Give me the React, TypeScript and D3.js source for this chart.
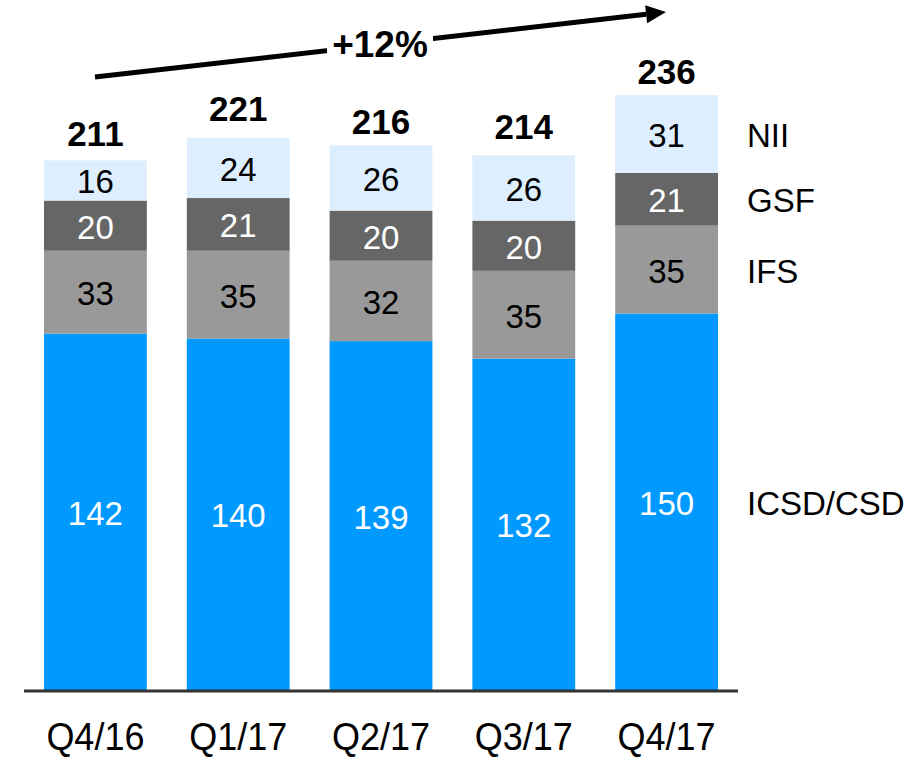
import React from "react";
import * as d3 from "d3";

const categories = ["Q4/16", "Q1/17", "Q2/17", "Q3/17", "Q4/17"];
const icsd = [142, 140, 139, 132, 150];
const ifs = [33, 35, 32, 35, 35];
const gsf = [20, 21, 20, 20, 21];
const nii = [16, 24, 26, 26, 31];
const totals = [211, 221, 216, 214, 236];
const seriesNames = ["ICSD/CSD", "IFS", "GSF", "NII"];
const growthLabel = "+12%";

const colors = ["#0099FF", "#999999", "#666666", "#DDEEFF"];
const labelColors = ["#FFFFFF", "#000000", "#FFFFFF", "#000000"];

export default function App() {
  const W = 919, H = 757;
  const baseY = 690;
  const x = d3.scaleBand().domain(categories).range([24, 738]).paddingInner(0.28).paddingOuter(0.14);
  const y = d3.scaleLinear().domain([0, 236]).range([baseY, baseY - 236 * 2.51]);
  const table = categories.map((c, i) => ({ cat: c, ICSD: icsd[i], IFS: ifs[i], GSF: gsf[i], NII: nii[i] }));
  const stack = d3.stack<any>().keys(["ICSD", "IFS", "GSF", "NII"])(table);
  const font = "'Liberation Sans', Arial, sans-serif";
  const last = categories.length - 1;

  // arrow
  const ax1 = 95, ay1 = 77, ax2 = 666, ay2 = 12;
  const ang = Math.atan2(ay2 - ay1, ax2 - ax1);
  const headLen = 20, headW = 9;
  const bx = ax2 - headLen * Math.cos(ang), by = ay2 - headLen * Math.sin(ang);
  const px = -Math.sin(ang), py = Math.cos(ang);
  const head = `M${ax2},${ay2} L${bx + px * headW},${by + py * headW} L${bx - px * headW},${by - py * headW} Z`;
  const catY = 750;

  return (
    <svg width={W} height={H} style={{ position: "absolute", left: 0, top: 0 }} fontFamily={font}>
      <rect width={W} height={H} fill="#fff" />
      {stack.map((layer, si) =>
        layer.map((d, i) => {
          const x0 = x(categories[i])!;
          const y0 = y(d[1]);
          const h = y(d[0]) - y(d[1]);
          return (
            <g key={`${si}-${i}`}>
              <rect x={x0} y={y0} width={x.bandwidth()} height={h} fill={colors[si]} />
              <text x={x0 + x.bandwidth() / 2} y={y0 + h / 2 + 13} textAnchor="middle" fontSize={33} fill={labelColors[si]}>
                {d[1] - d[0]}
              </text>
            </g>
          );
        })
      )}
      {totals.map((t, i) => (
        <text key={i} x={x(categories[i])! + x.bandwidth() / 2} y={y(t) - 14} textAnchor="middle" fontSize={35} fontWeight="bold" fill="#000">
          {t}
        </text>
      ))}
      <line x1={24} x2={738} y1={baseY + 1} y2={baseY + 1} stroke="#333" strokeWidth={3} />
      {categories.map((c, i) => (
        <text key={c} x={x(c)! + x.bandwidth() / 2} y={catY} textAnchor="middle" fontSize={36} fill="#000" transform={`translate(0,${catY}) scale(1,1.1) translate(0,${-catY})`}>
          {c}
        </text>
      ))}
      {stack.map((layer, si) => {
        const d = layer[last];
        return (
          <text key={si} x={747} y={(y(d[0]) + y(d[1])) / 2 + 13} fontSize={33} fill="#000">
            {seriesNames[si]}
          </text>
        );
      })}
      <line x1={ax1} y1={ay1} x2={bx} y2={by} stroke="#000" strokeWidth={5} />
      <path d={head} fill="#000" />
      <rect x={327} y={20} width={106} height={46} fill="#fff" />
      <text x={380} y={57} textAnchor="middle" fontSize={37} fontWeight="bold" fill="#000">
        {growthLabel}
      </text>
    </svg>
  );
}
